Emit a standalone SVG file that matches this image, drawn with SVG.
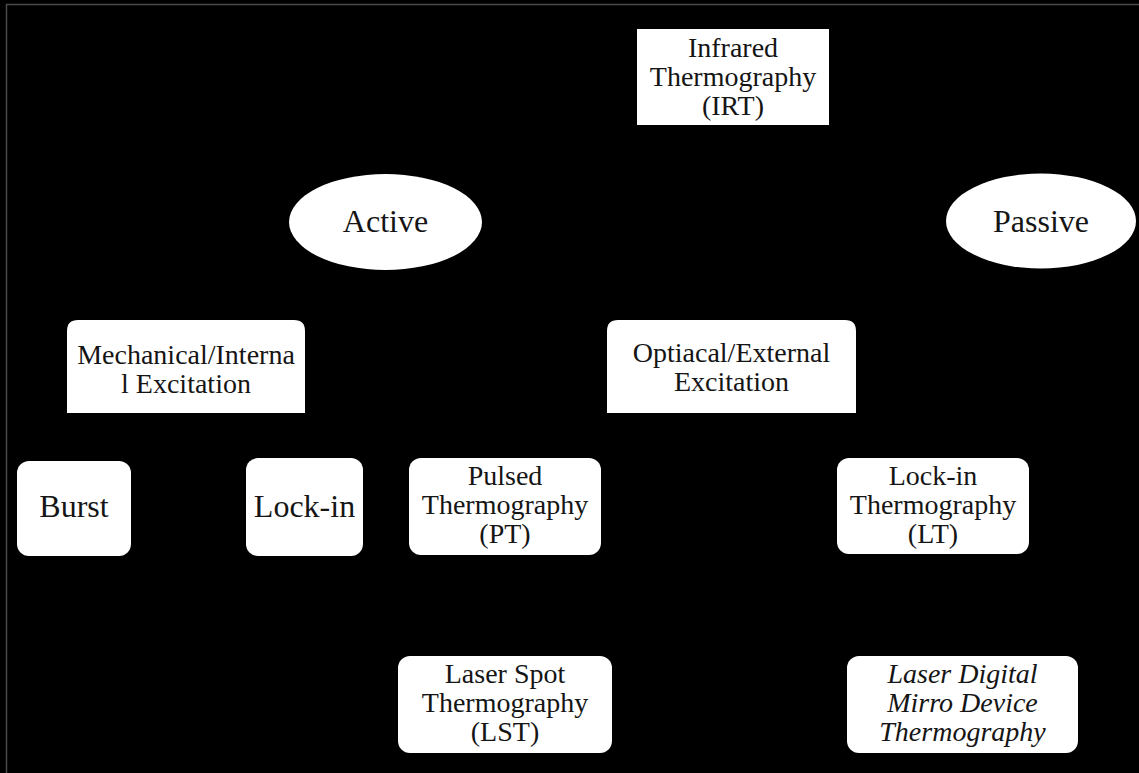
<svg xmlns="http://www.w3.org/2000/svg" width="1139" height="773" viewBox="0 0 1139 773">
<style>
.bg{fill:#000}
.frame{stroke:#4a4a4a;stroke-width:1.5;fill:none}
.node{fill:#fff}
.t{font-family:"Liberation Serif","Times New Roman",serif;fill:#151515;text-anchor:middle}
.s28{font-size:28px}
.s32{font-size:32px}
.it{font-style:italic}
</style>
<rect class="bg" x="0" y="0" width="1139" height="773"/>
<path class="frame" d="M6.5,773 V4.5 H1139"/>
<g id="connectors"></g>
<g id="irt">
<rect class="node" x="637" y="29" width="192" height="96"/>
<text class="t s28" x="733" y="57">Infrared</text>
<text class="t s28" x="733" y="86">Thermography</text>
<text class="t s28" x="733" y="115">(IRT)</text>
</g>
<g id="active">
<ellipse class="node" cx="385.5" cy="222" rx="96.5" ry="48"/>
<text class="t s32" x="385.5" y="232">Active</text>
</g>
<g id="passive">
<ellipse class="node" cx="1041" cy="221" rx="95" ry="47.5"/>
<text class="t s32" x="1041" y="232">Passive</text>
</g>
<g id="mechanical">
<path class="node" d="M67,413 V331 Q67,320 78,320 H294 Q305,320 305,331 V413 Z"/>
<text class="t s28" x="186" y="364">Mechanical/Interna</text>
<text class="t s28" x="186" y="393">l Excitation</text>
</g>
<g id="optical">
<path class="node" d="M607,413 V331 Q607,320 618,320 H845 Q856,320 856,331 V413 Z"/>
<text class="t s28" x="731.5" y="362">Optiacal/External</text>
<text class="t s28" x="731.5" y="391">Excitation</text>
</g>
<g id="burst">
<rect class="node" x="17" y="461" width="114" height="95" rx="12"/>
<text class="t s32" x="74" y="517">Burst</text>
</g>
<g id="lockin">
<rect class="node" x="246" y="458" width="117" height="98" rx="12"/>
<text class="t s32" x="304.5" y="517">Lock-in</text>
</g>
<g id="pt">
<rect class="node" x="409" y="458" width="192" height="97" rx="12"/>
<text class="t s28" x="505" y="485">Pulsed</text>
<text class="t s28" x="505" y="514">Thermography</text>
<text class="t s28" x="505" y="543">(PT)</text>
</g>
<g id="lt">
<rect class="node" x="837" y="458" width="192" height="96" rx="12"/>
<text class="t s28" x="933" y="485">Lock-in</text>
<text class="t s28" x="933" y="514">Thermography</text>
<text class="t s28" x="933" y="543">(LT)</text>
</g>
<g id="lst">
<rect class="node" x="398" y="656" width="214" height="97" rx="12"/>
<text class="t s28" x="505" y="683">Laser Spot</text>
<text class="t s28" x="505" y="712">Thermography</text>
<text class="t s28" x="505" y="741">(LST)</text>
</g>
<g id="ldmd">
<rect class="node" x="847" y="656" width="231" height="97" rx="12"/>
<text class="t s28 it" x="962.5" y="683">Laser Digital</text>
<text class="t s28 it" x="962.5" y="712">Mirro Device</text>
<text class="t s28 it" x="962.5" y="741">Thermography</text>
</g>
</svg>
